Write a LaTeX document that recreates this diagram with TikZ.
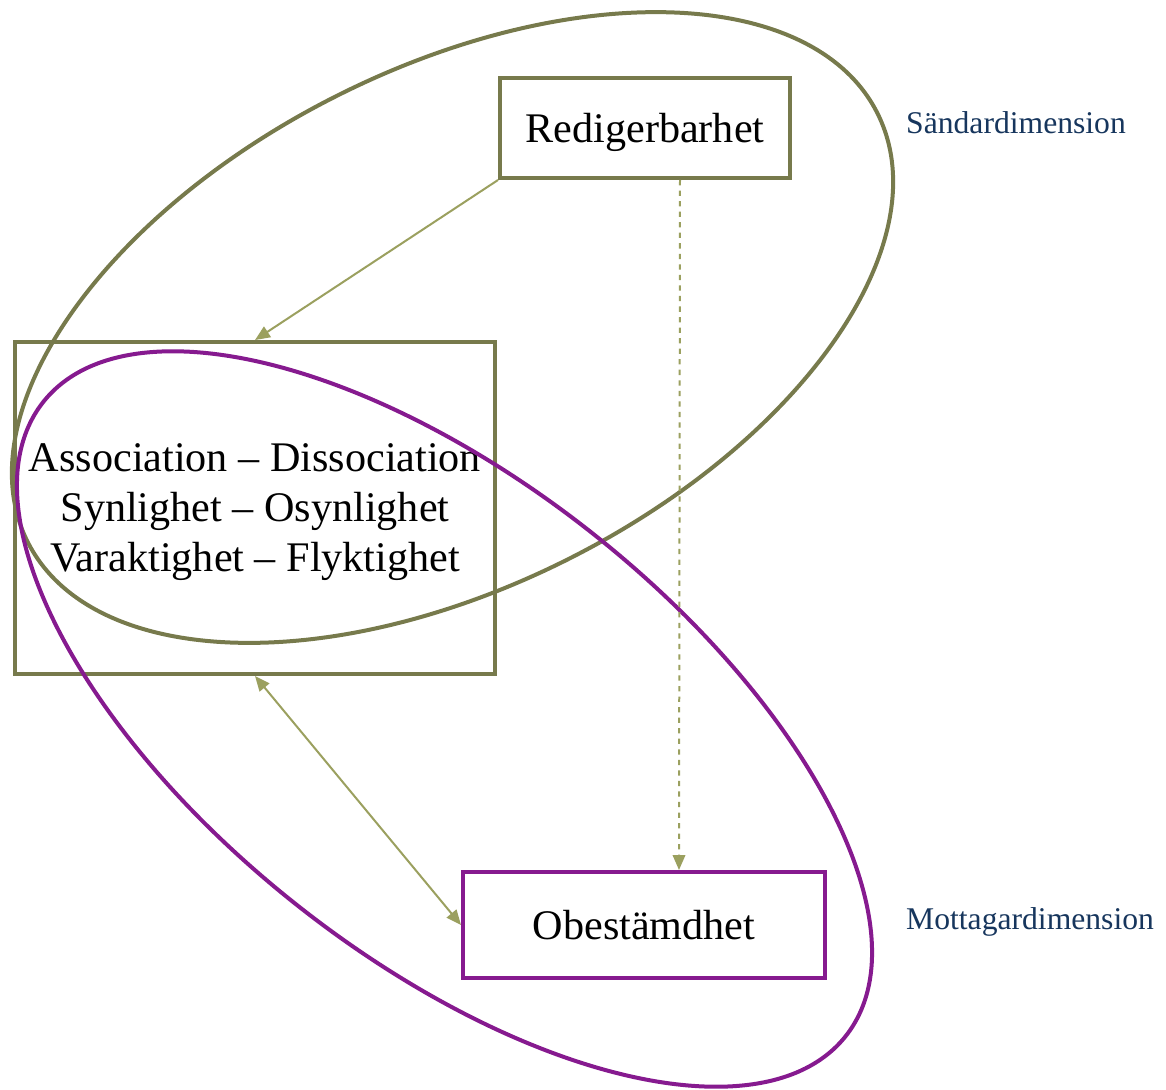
\documentclass[tikz,border=0pt]{standalone}
\usepackage{fontspec}
\setmainfont{Liberation Serif}
\usetikzlibrary{arrows.meta}
\definecolor{olivegr}{RGB}{119,122,76}
\definecolor{arrowgr}{RGB}{155,160,95}
\definecolor{purp}{RGB}{134,26,143}
\definecolor{dimblue}{RGB}{23,54,93}
\begin{document}
\begin{tikzpicture}[x=0.02cm, y=-0.02cm,
        box/.style={draw, line width=0.08cm, align=center, inner sep=0pt, text depth=0pt,
            font=\fontsize{24}{28.45}\selectfont},
        link/.style={arrowgr, line width=0.04cm, -{Triangle[length=0.3cm, width=0.25cm]}},
        dimlabel/.style={anchor=west, dimblue, font=\fontsize{18}{22}\selectfont}]
    \useasboundingbox (0,0) rectangle (1166,1089);
    % boxes
    \node[box, olivegr, text=black, minimum width=5.8cm, minimum height=2cm] (redig) at (645,128) {Redigerbarhet};
    \node[box, olivegr, text=black, minimum width=9.6cm, minimum height=6.64cm] (assoc) at (255,508)
        {Association -- Dissociation\\Synlighet -- Osynlighet\\Varaktighet -- Flyktighet};
    \node[box, purp, text=black, minimum width=7.24cm, minimum height=2.12cm] (obest) at (644,925) {Obestämdhet};
    % dimensions
    \draw[olivegr, line width=0.08cm, rotate around={26.8:(452.5,327.5)}]
        (452.5,327.5) ellipse [x radius=9.52cm, y radius=5.18cm];
    \draw[purp, line width=0.08cm, rotate around={-38.3:(444.5,719)}]
        (444.5,719) ellipse [x radius=10.23cm, y radius=4.75cm];
    \node[dimlabel] (sand) at (900,123) {Sändardimension};
    \node[dimlabel] (mott) at (900,922) {Mottagardimension};
    % links
    \draw[link] (redig.south west) -- (assoc.north);
    \draw[link, dashed] ([xshift=0.7cm]redig.south) -- ([xshift=0.7cm]obest.north);
    \draw[link, {Triangle[length=0.3cm, width=0.25cm]}-{Triangle[length=0.3cm, width=0.25cm]}] (assoc.south) -- (obest.west);
\end{tikzpicture}
\end{document}
